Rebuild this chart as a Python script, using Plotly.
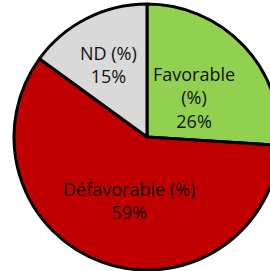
import plotly.graph_objects as go

categories = ["Favorable (%)", "Défavorable (%)", "ND (%)"]
values = [26, 59, 15]
label_text = ["Favorable<br>(%)", "Défavorable (%)", "ND (%)"]
colors = ["#92D050", "#C00000", "#D9D9D9"]

W, H = 290, 271
cx, cy, r = 147, 137, 133
# label block centres (pixels from top-left)
label_pos = [(194, 97), (129, 201), (108, 65)]

fig = go.Figure(go.Pie(
    labels=categories,
    values=values,
    textinfo="none",
    sort=False,
    direction="clockwise",
    rotation=0,
    marker=dict(colors=colors, line=dict(color="black", width=3)),
    showlegend=False,
    hoverinfo="label+percent",
    domain=dict(x=[(cx - r) / W, (cx + r) / W], y=[(H - cy - r) / H, (H - cy + r) / H]),
))

total = sum(values)
for txt, v, (px, py) in zip(label_text, values, label_pos):
    fig.add_annotation(
        x=px / W, y=1 - py / H, xref="paper", yref="paper",
        text=f"{txt}<br>{round(100 * v / total)}%",
        showarrow=False, xanchor="center", yanchor="middle",
        font=dict(family="Open Sans, Liberation Sans, sans-serif", size=18, color="#111111"),
    )

fig.update_layout(
    width=W, height=H,
    margin=dict(l=0, r=0, t=0, b=0),
    paper_bgcolor="white",
)
fig.write_html(
    "out.html",
    config={"displayModeBar": False},
    post_script="document.body.style.margin='0';document.body.style.overflow='hidden';document.documentElement.style.overflow='hidden';",
)
